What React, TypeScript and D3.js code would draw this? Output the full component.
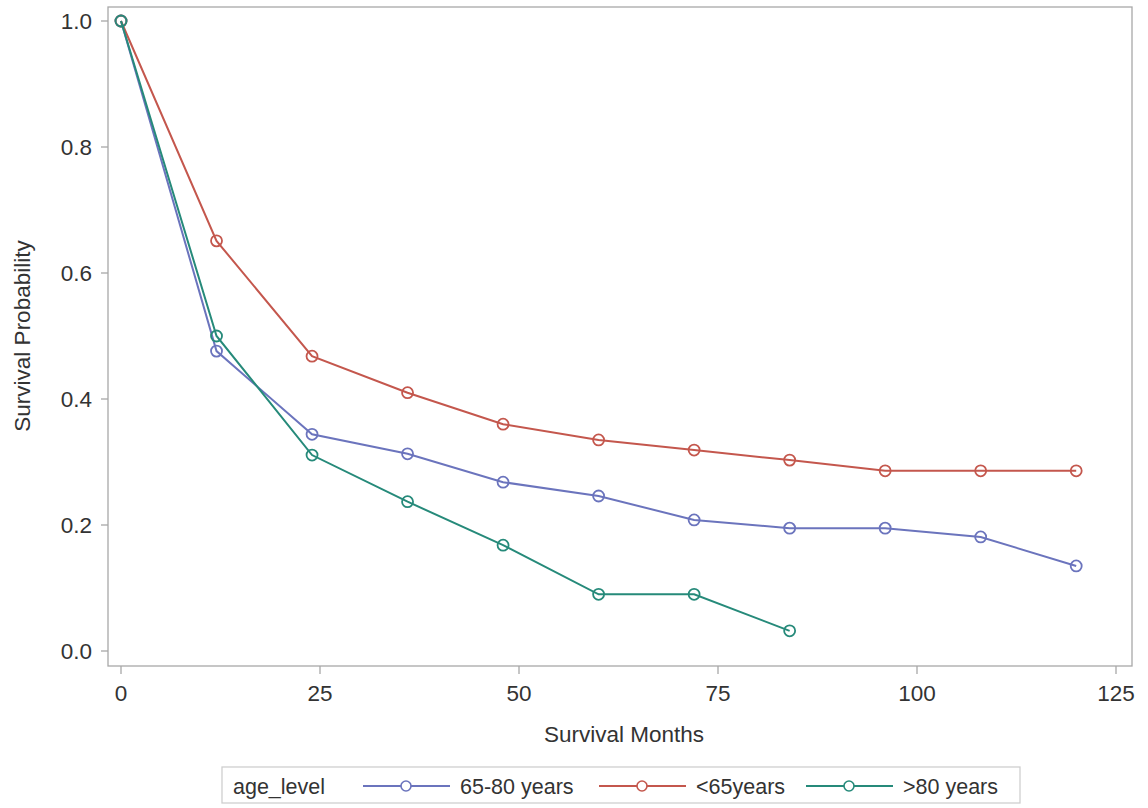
import * as d3 from 'd3';

const months = [0, 12, 24, 36, 48, 60, 72, 84, 96, 108, 120];
const midAge = [1.0, 0.476, 0.344, 0.313, 0.268, 0.246, 0.208, 0.195, 0.195, 0.181, 0.135];
const young = [1.0, 0.651, 0.468, 0.41, 0.36, 0.335, 0.319, 0.303, 0.286, 0.286, 0.286];
const old = [1.0, 0.5, 0.311, 0.237, 0.168, 0.09, 0.09, 0.032];
const xTicks = [0, 25, 50, 75, 100, 125];
const yTicks = [0, 0.2, 0.4, 0.6, 0.8, 1.0];

const series = [
  { name: '65-80 years', values: midAge, color: '#6b74bd' },
  { name: '<65years', values: young, color: '#c4574d' },
  { name: '>80 years', values: old, color: '#268a7a' },
];

const W = 1148;
const H = 808;
const frame = { left: 108, right: 1132, top: 7, bottom: 666 };
const font = '"Liberation Sans", Arial, sans-serif';
const fs = 22.5;

export default function App() {
  const x = d3.scaleLinear().domain([0, 125]).range([121, 1116]);
  const y = d3.scaleLinear().domain([0, 1]).range([651, 21]);
  const line = d3
    .line<number>()
    .x((_, i) => x(months[i]))
    .y((d) => y(d));

  // legend layout
  const legY = 786;
  const legItems = [
    { x: 363, ...series[0] },
    { x: 599, ...series[1] },
    { x: 806, ...series[2] },
  ];

  return (
    <svg
      width={W}
      height={H}
      style={{ position: 'absolute', left: 0, top: 0, background: '#fff' }}
      fontFamily={font}
    >
      <rect
        x={frame.left}
        y={frame.top}
        width={frame.right - frame.left}
        height={frame.bottom - frame.top}
        fill="none"
        stroke="#a8a8a8"
        strokeWidth={1.3}
      />
      {yTicks.map((t) => (
        <g key={'y' + t}>
          <line x1={frame.left - 7} x2={frame.left} y1={y(t)} y2={y(t)} stroke="#a8a8a8" strokeWidth={1.3} />
          <text x={92} y={y(t)} dy="0.35em" textAnchor="end" fontSize={fs} fill="#333">
            {t.toFixed(1)}
          </text>
        </g>
      ))}
      {xTicks.map((t) => (
        <g key={'x' + t}>
          <line x1={x(t)} x2={x(t)} y1={frame.bottom} y2={frame.bottom + 8} stroke="#a8a8a8" strokeWidth={1.3} />
          <text x={x(t)} y={701} textAnchor="middle" fontSize={fs} fill="#333">
            {t}
          </text>
        </g>
      ))}
      <text x={624} y={742} textAnchor="middle" fontSize={fs} fill="#333">
        Survival Months
      </text>
      <text
        transform={`translate(30,336) rotate(-90)`}
        textAnchor="middle"
        fontSize={fs}
        fill="#333"
      >
        Survival Probability
      </text>

      {series.map((s) => (
        <g key={s.name}>
          <path d={line(s.values) || ''} fill="none" stroke={s.color} strokeWidth={2} />
          {s.values.map((v, i) => (
            <circle key={i} cx={x(months[i])} cy={y(v)} r={5.5} fill="none" stroke={s.color} strokeWidth={1.8} />
          ))}
        </g>
      ))}

      <rect x={222} y={767} width={798} height={36} fill="#fff" stroke="#cfcfcf" strokeWidth={1.3} />
      <text x={233} y={legY} dy="0.35em" fontSize={21.5} fill="#333">
        age_level
      </text>
      {legItems.map((it) => (
        <g key={it.name}>
          <line x1={it.x} x2={it.x + 87} y1={legY} y2={legY} stroke={it.color} strokeWidth={2} />
          <circle cx={it.x + 43} cy={legY} r={5} fill="#fff" stroke={it.color} strokeWidth={1.6} />
          <text x={it.x + 97} y={legY} dy="0.35em" fontSize={21.5} fill="#333">
            {it.name}
          </text>
        </g>
      ))}
    </svg>
  );
}
